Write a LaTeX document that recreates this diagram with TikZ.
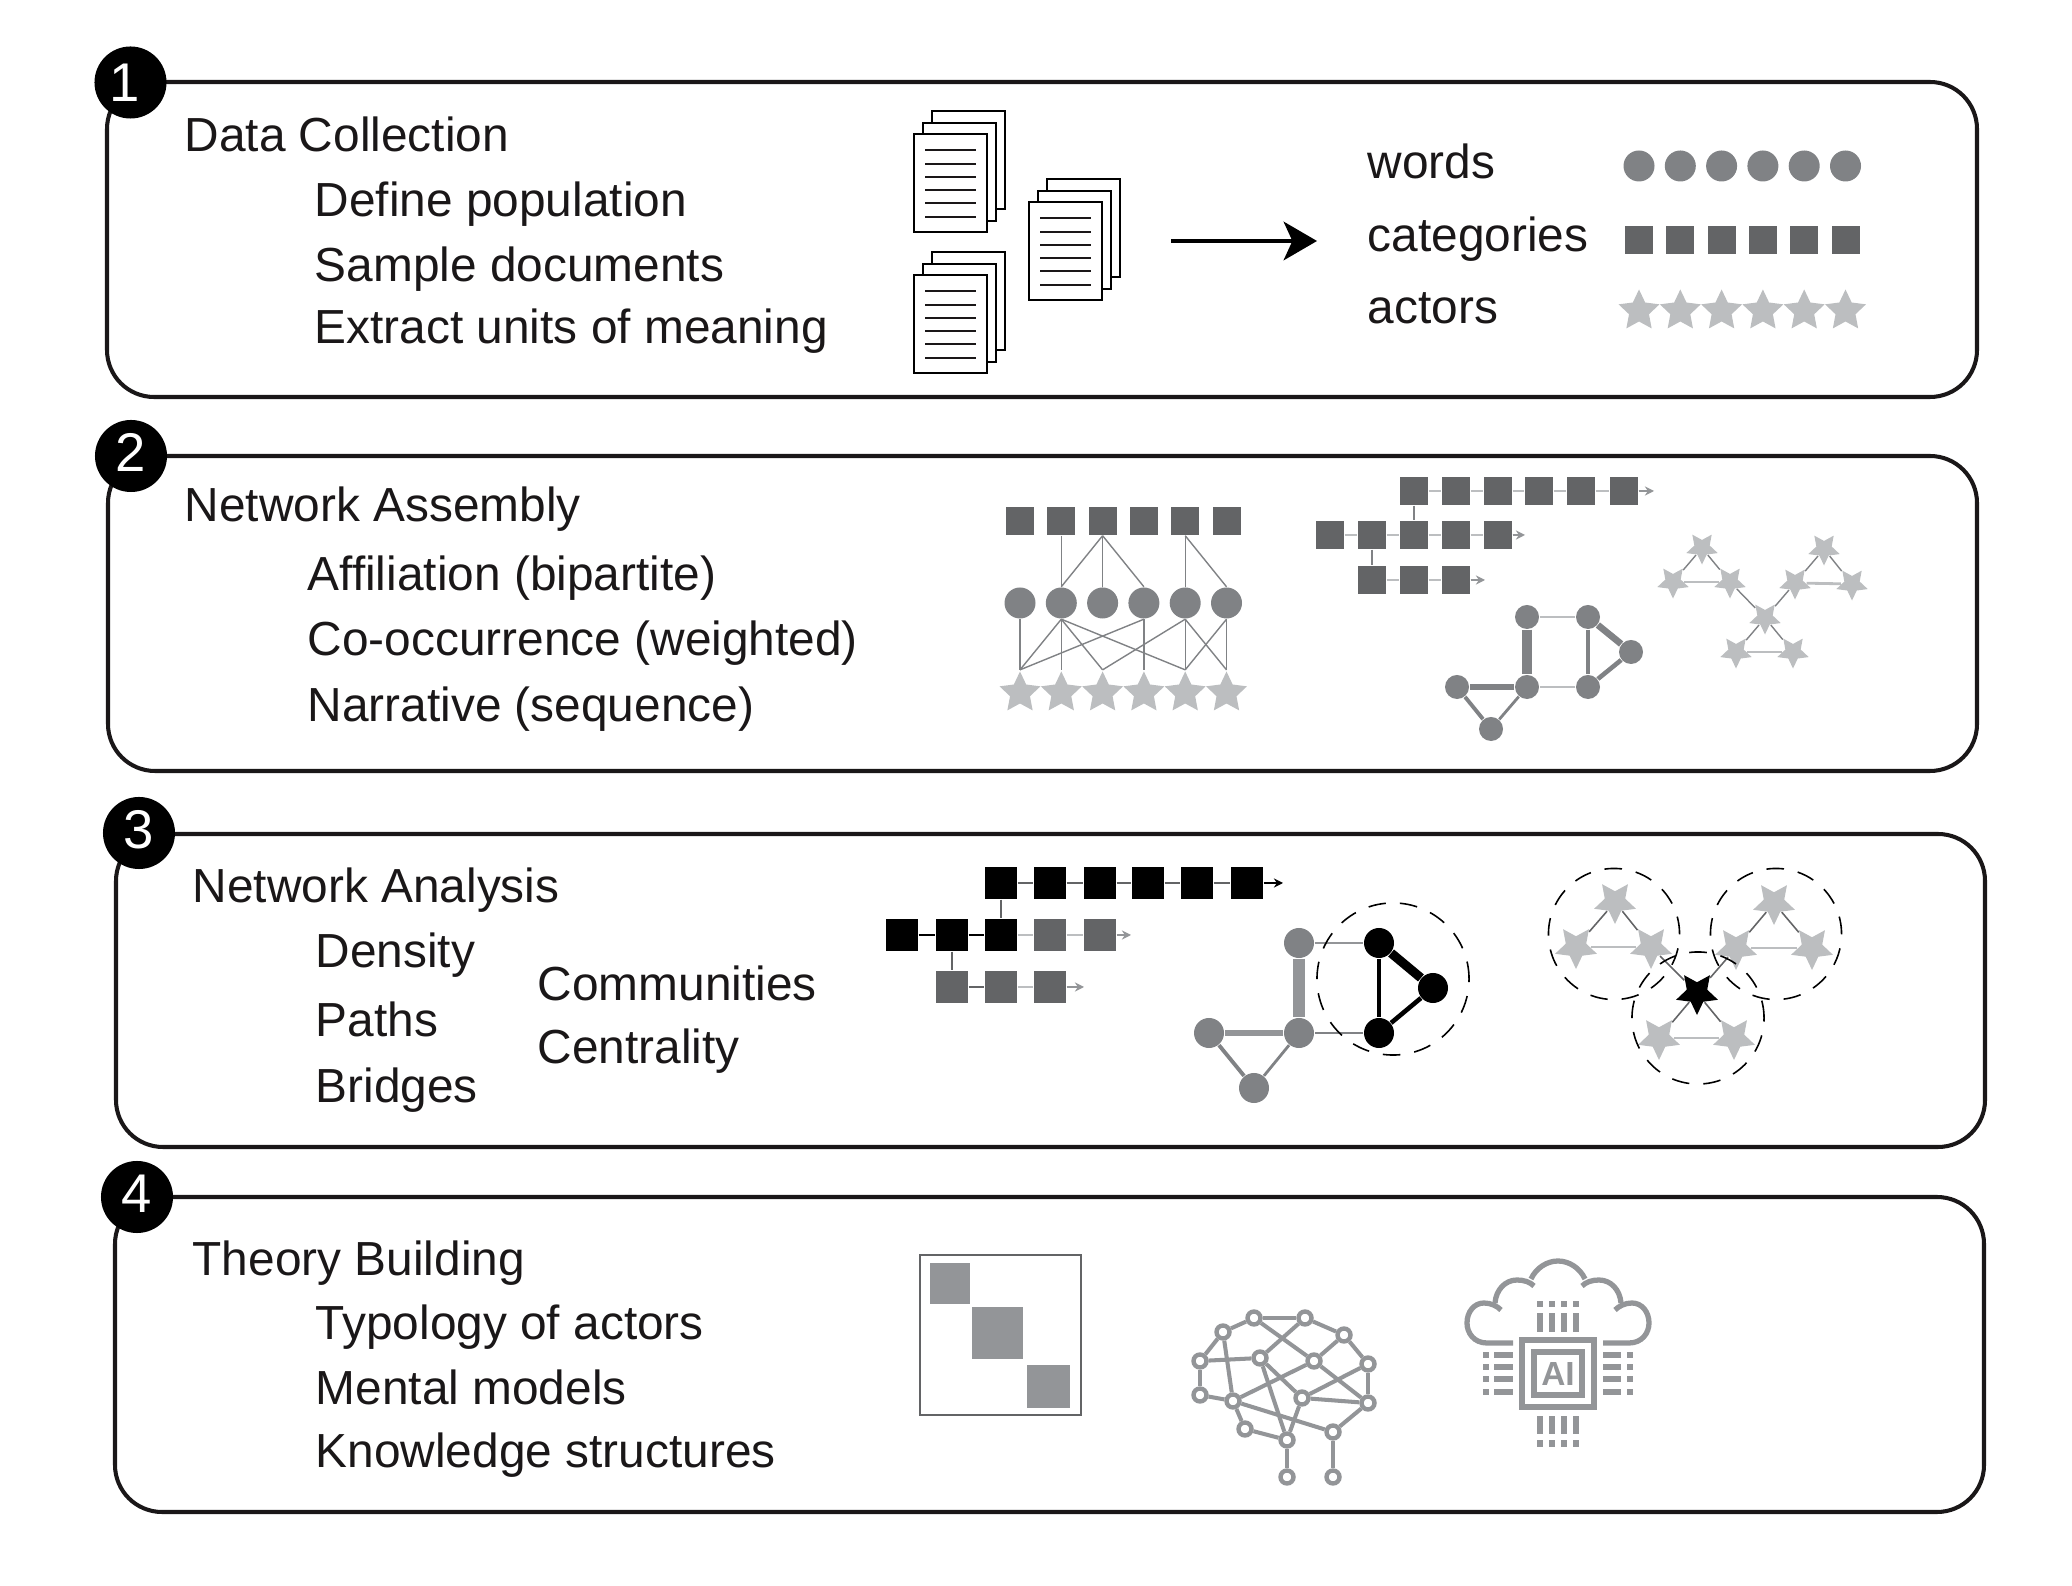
\documentclass[tikz,border=0pt]{standalone}
\usepackage{fontspec}
\setmainfont{Liberation Sans}
\usetikzlibrary{shapes.geometric,arrows.meta}

\definecolor{ink}{HTML}{1A1718}
\definecolor{greyA}{HTML}{636466}
\definecolor{greyB}{HTML}{808285}
\definecolor{greyC}{HTML}{939598}
\definecolor{greyD}{HTML}{BCBEC0}

\tikzset{
    panel/.style={draw=ink,line width=1.15pt,rounded corners=0.47cm},
    badge/.style={circle,fill=black,text=white,inner sep=0pt,minimum size=0.72cm,font=\fontsize{15.5pt}{18pt}\selectfont},
    txt/.style={anchor=base west,inner sep=0pt,text=ink,font=\fontsize{13.6pt}{15pt}\selectfont},
    dot/.style={circle,fill=greyB,inner sep=0pt,minimum size=0.31cm},
    sq/.style={rectangle,fill=greyA,inner sep=0pt,minimum size=0.28cm},
    sqk/.style={rectangle,fill=black,inner sep=0pt,minimum size=0.32cm},
    sqg/.style={rectangle,fill=greyA,inner sep=0pt,minimum size=0.32cm},
    actor/.style={star,star points=5,star point ratio=2.05,fill=greyD,inner sep=0pt,minimum size=0.43cm},
    actordown/.style={actor,shape border rotate=180,minimum size=#1},
    vtx/.style={circle,fill=greyB,inner sep=0pt,minimum size=#1},
    thinedge/.style={draw=greyB,line width=0.4pt},
    seqline/.style={draw=greyD,line width=0.7pt},
    seqtip/.style={-{Stealth[length=2.6pt,width=2.6pt]}},
    hull/.style={circle,draw=black,dashed,dash pattern=on 5pt off 4pt,line width=0.45pt,inner sep=0pt,minimum size=#1},
    synapse/.style={circle,draw=greyC,fill=white,line width=1.25pt,inner sep=0pt,minimum size=0.13cm},
    wire/.style={draw=greyC,line width=1.15pt},
    pin/.style={fill=greyC},
}

\newcommand{\docstack}[2]{
    \begin{scope}[shift={(#1,#2)}]
        \draw[black,fill=white,line width=0.75pt] (18,-23) rectangle (91,75);
        \draw[black,fill=white,line width=0.75pt] (9,-11) rectangle (82,87);
        \draw[black,fill=white,line width=0.75pt] (0,0) rectangle (73,98);
        \foreach \ly in {16,30,43,56,69,83}
            \draw[ink,line width=0.65pt] (11,\ly) -- (62,\ly);
    \end{scope}
}
\newcommand{\upnum}[1]{\raisebox{1.2pt}[11.1pt][0pt]{#1}}

\begin{document}
\begin{tikzpicture}[x=0.01cm,y=-0.01cm]
    \useasboundingbox (0,0) rectangle (2072,1586);

    \draw[panel] (107,82) rectangle (1977,397);
    \draw[panel] (108,456) rectangle (1977,771);
    \draw[panel] (116,834) rectangle (1985,1147);
    \draw[panel] (115,1197) rectangle (1984,1512);

    \node[badge] (b1) at (130.5,82.5) {\kern-3.4pt 1};
    \node[badge] (b2) at (131,456) {\upnum{2}};
    \node[badge] (b3) at (139,833) {\upnum{3}};
    \node[badge] (b4) at (137,1197) {\upnum{4}};

    %%%%%%%%%%%%%%%%%%%%%%%%%%%%%%%%%%%%
    % Panel 1
    %%%%%%%%%%%%%%%%%%%%%%%%%%%%%%%%%%%%
    \node[txt] (t11) at (184,152) {Data Collection};
    \node[txt] (t12) at (314,217) {Define population};
    \node[txt] (t13) at (314,282) {Sample documents};
    \node[txt] (t14) at (314,344) {Extract units of meaning};

    \docstack{914}{134}
    \docstack{1029}{202}
    \docstack{914}{275}

    \coordinate (ar1) at (1171,241);
    \coordinate (ar2) at (1317,241);
    \draw[-{Stealth[length=9.5pt,width=11pt,inset=2.5pt]},black,line width=0.9pt] (ar1) -- (ar2);

    \node[txt] (l1) at (1367,179) {words};
    \node[txt] (l2) at (1367,252) {categories};
    \node[txt] (l3) at (1367,324) {actors};

    \foreach \i in {1,...,6} {
        \node[dot] (w\i) at ({1639+41.3*(\i-1)},166) {};
        \node[sq] (c\i) at ({1639+41.3*(\i-1)},240) {};
        \node[actor] (a\i) at ({1639+41.3*(\i-1)},311) {};
    }

    %%%%%%%%%%%%%%%%%%%%%%%%%%%%%%%%%%%%
    % Panel 2
    %%%%%%%%%%%%%%%%%%%%%%%%%%%%%%%%%%%%
    \node[txt] (t21) at (184,522) {Network Assembly};
    \node[txt] (t22) at (307,591) {Affiliation (bipartite)};
    \node[txt] (t23) at (307,656) {Co-occurrence (weighted)};
    \node[txt] (t24) at (307,722) {Narrative (sequence)};

    \foreach \i in {1,...,6} {
        \node[sq] (s\i) at ({1020+41.3*(\i-1)},521) {};
        \node[dot] (o\i) at ({1020+41.3*(\i-1)},603) {};
        \node[actor] (p\i) at ({1020+41.3*(\i-1)},693) {};
    }
    \foreach \a/\b in {2/2,3/2,3/3,3/4,5/5,5/6}
        \draw[thinedge] (s\a.south) -- (o\b.north);
    \foreach \a/\b in {1/1,2/1,2/2,2/3,2/5,4/1,4/4,5/3,5/5,5/6,6/5,6/6}
        \draw[thinedge] (o\a.south) -- (p\b.north);

    % sequences
    \foreach \i/\x in {1/1414,2/1456,3/1498,4/1539,5/1581,6/1624}
        \node[sq] (qa\i) at (\x,491) {};
    \foreach \i/\x in {1/1330,2/1372,3/1414,4/1456,5/1498}
        \node[sq] (qb\i) at (\x,535) {};
    \foreach \i/\x in {1/1372,2/1414,3/1456}
        \node[sq] (qc\i) at (\x,580) {};
    \coordinate (qa7) at (1654,491);
    \coordinate (qb6) at (1525,535);
    \coordinate (qc4) at (1485,580);
    \foreach \a/\b in {qa1/qa2,qa2/qa3,qa3/qa4,qa4/qa5,qa5/qa6,qb1/qb2,qb2/qb3,qb3/qb4,qb4/qb5,qc1/qc2,qc2/qc3}
        \draw[seqline] (\a) -- (\b);
    \draw[seqline,draw=greyC,fill=greyB,seqtip] (qa6) -- (qa7);
    \draw[seqline,draw=greyC,fill=greyB,seqtip] (qb5) -- (qb6);
    \draw[seqline,draw=greyC,fill=greyB,seqtip] (qc3) -- (qc4);
    \draw[thinedge] (qa1) -- (qb3);
    \draw[thinedge] (qb2) -- (qc1);

    % weighted graph
    \foreach \n/\x/\y in {ga/1527/617,gb/1588/617,gc/1631/652,gd/1588/687,ge/1527/687,gf/1457/687,gg/1491/729}
        \node[vtx=0.24cm] (\n) at (\x,\y) {};
    \draw[greyB,line width=3.1pt] (ga) -- (ge);
    \draw[greyD,line width=0.8pt] (ga) -- (gb);
    \draw[greyB,line width=1.9pt] (gb) -- (gc);
    \draw[greyB,line width=0.9pt] (gb) -- (gd);
    \draw[greyB,line width=1.3pt] (gc) -- (gd);
    \draw[greyD,line width=0.8pt] (gd) -- (ge);
    \draw[greyB,line width=1.6pt] (ge) -- (gf);
    \draw[greyB,line width=1.1pt] (gf) -- (gg);
    \draw[greyB,line width=0.8pt] (ge) -- (gg);

    % star triads
    \foreach \n/\x/\y in {ta/1702/548,tb/1673/582,tc/1730/582,td/1824/549,te/1795/583,tf/1852/584,tg/1765/618,th/1736/652,ti/1793/652}
        \node[actordown=0.33cm] (\n) at (\x,\y) {};
    \foreach \a/\b in {ta/tb,ta/tc,td/te,td/tf,tc/tg,te/tg,tg/th,tg/ti}
        \draw[thinedge] (\a) -- (\b);
    \foreach \a/\b in {tb/tc,te/tf,th/ti}
        \draw[greyD,line width=0.8pt] (\a) -- (\b);

    %%%%%%%%%%%%%%%%%%%%%%%%%%%%%%%%%%%%
    % Panel 3
    %%%%%%%%%%%%%%%%%%%%%%%%%%%%%%%%%%%%
    \node[txt] (t31) at (192,903) {Network Analysis};
    \node[txt] (t32) at (315,968) {Density};
    \node[txt] (t33) at (315,1037) {Paths};
    \node[txt] (t34) at (315,1103) {Bridges};
    \node[txt] (t35) at (537,1001) {Communities};
    \node[txt] (t36) at (537,1064) {Centrality};

    \foreach \i/\x in {1/1001,2/1050,3/1100,4/1148,5/1197,6/1247}
        \node[sqk] (ka\i) at (\x,883) {};
    \foreach \i/\x/\st in {1/902/sqk,2/952/sqk,3/1001/sqk,4/1050/sqg,5/1100/sqg}
        \node[\st] (kb\i) at (\x,935) {};
    \foreach \i/\x in {1/952,2/1001,3/1050}
        \node[sqg] (kc\i) at (\x,987) {};
    \coordinate (ka7) at (1283,883);
    \coordinate (kb6) at (1131,935);
    \coordinate (kc4) at (1084,987);
    \foreach \a/\b in {ka1/ka2,ka2/ka3,ka3/ka4,ka4/ka5,ka5/ka6}
        \draw[greyA,line width=0.8pt] (\a) -- (\b);
    \draw[black,line width=0.7pt,seqtip] (ka6) -- (ka7);
    \draw[black,line width=0.7pt] (kb1) -- (kb2);
    \draw[black,line width=0.7pt] (kb2) -- (kb3);
    \draw[greyD,line width=0.8pt] (kb3) -- (kb4);
    \draw[greyD,line width=0.8pt] (kb4) -- (kb5);
    \draw[greyC,line width=0.8pt,seqtip] (kb5) -- (kb6);
    \draw[greyA,line width=0.5pt] (kc1) -- (kc2);
    \draw[greyD,line width=0.8pt] (kc2) -- (kc3);
    \draw[greyC,line width=0.8pt,seqtip] (kc3) -- (kc4);
    \draw[greyA,line width=0.45pt] (ka1) -- (kb3);
    \draw[greyA,line width=0.45pt] (kb2) -- (kc1);

    \foreach \n/\x/\y in {ha/1299/943,he/1299/1033,hf/1209/1033,hg/1254/1088}
        \node[vtx=0.30cm] (\n) at (\x,\y) {};
    \foreach \n/\x/\y in {hb/1379/943,hc/1433/988,hd/1379/1033}
        \node[vtx=0.30cm,fill=black] (\n) at (\x,\y) {};
    \draw[greyC,line width=3.4pt] (ha) -- (he);
    \draw[greyC,line width=0.7pt] (ha) -- (hb);
    \draw[black,line width=2.6pt] (hb) -- (hc);
    \draw[black,line width=1pt] (hb) -- (hd);
    \draw[black,line width=1.3pt] (hc) -- (hd);
    \draw[greyB,line width=0.6pt] (hd) -- (he);
    \draw[greyC,line width=1.7pt] (he) -- (hf);
    \draw[greyB,line width=1.1pt] (hf) -- (hg);
    \draw[greyB,line width=0.8pt] (he) -- (hg);
    \node[hull=1.52cm] (cm) at (1393,979) {};

    \foreach \n/\x/\y in {ua/1615/902,ub/1576/947,uc/1651/947,ud/1774/903,ue/1736/948,uf/1812/948,uh/1659/1038,ui/1734/1038}
        \node[actordown=0.44cm] (\n) at (\x,\y) {};
    \node[actordown=0.44cm,fill=black] (ug) at (1697,993) {};
    \foreach \a/\b in {ua/ub,ua/uc,ud/ue,ud/uf,uc/ug,ue/ug,ug/uh,ug/ui}
        \draw[greyA,line width=0.45pt] (\a) -- (\b);
    \foreach \a/\b in {ub/uc,ue/uf,uh/ui}
        \draw[greyD,line width=0.8pt] (\a) -- (\b);
    \node[hull=1.31cm] (ca) at (1614,934) {};
    \node[hull=1.31cm] (cb) at (1776,934) {};
    \node[hull=1.32cm] (cc) at (1698,1018) {};

    %%%%%%%%%%%%%%%%%%%%%%%%%%%%%%%%%%%%
    % Panel 4
    %%%%%%%%%%%%%%%%%%%%%%%%%%%%%%%%%%%%
    \node[txt] (t41) at (192,1275) {Theory Building};
    \node[txt] (t42) at (315,1340) {Typology of actors};
    \node[txt] (t43) at (315,1404) {Mental models};
    \node[txt] (t44) at (315,1467) {Knowledge structures};

    \draw[greyA,line width=0.4pt] (920,1255) rectangle (1081,1415);
    \fill[greyC] (930,1263) rectangle (970,1304);
    \fill[greyC] (972,1307) rectangle (1023,1359);
    \fill[greyC] (1027,1365) rectangle (1070,1408);

    % brain
    \foreach \n/\x/\y in {n1/1254/1318,n2/1305/1318,n3/1344/1335,n4/1368/1364,n5/1368/1403,n6/1333/1432,n7/1287/1440,n8/1245/1429,n9/1233/1401,n10/1200/1395,n11/1200/1361,n12/1223/1332,n13/1260/1358,n14/1314/1361,n15/1302/1398,n16/1287/1477,n17/1333/1477}
        \node[synapse] (\n) at (\x,\y) {};
    \foreach \a/\b in {n1/n2,n2/n3,n3/n4,n4/n5,n5/n6,n6/n17,n7/n16,n7/n8,n8/n9,n9/n10,n10/n11,n11/n12,n12/n1,n1/n14,n2/n13,n3/n14,n11/n13,n12/n9,n13/n15,n13/n7,n14/n9,n14/n5,n4/n15,n15/n5,n15/n7,n9/n6}
        \draw[wire] (\a) -- (\b);

    % cloud and chip
    \foreach \sx in {1,-1} {
        \begin{scope}[shift={(1558,0)},xscale=\sx]
            \draw[greyC,line width=1.5pt]
                (-45,1343) -- (-71,1343) .. controls (-84,1343) and (-91,1333) .. (-91,1323)
                .. controls (-91,1312) and (-84,1303) .. (-74,1303) .. controls (-67,1303) and (-61,1306) .. (-57,1310);
            \draw[greyC,line width=1.5pt]
                (-63,1303) .. controls (-62,1290) and (-53,1280) .. (-41,1280) .. controls (-34,1280) and (-28,1282) .. (-24,1286);
            \draw[greyC,line width=1.5pt]
                (-27,1279) .. controls (-22,1268) and (-11,1261) .. (0,1261);
        \end{scope}
    }
    \draw[greyC,line width=1.5pt] (1522,1340) rectangle (1594,1407);
    \draw[greyC,line width=1.7pt] (1534,1352) rectangle (1582,1395);
    \node[inner sep=0pt,text=greyC,font=\bfseries\fontsize{9.5pt}{10pt}\selectfont] (ai) at (1558,1374) {AI};
    \foreach \px in {1540,1552,1564,1576} {
        \fill[pin] ({\px-3},1313) rectangle ({\px+3},1332);
        \fill[pin] ({\px-3},1301) rectangle ({\px+3},1307);
        \fill[pin] ({\px-3},1416) rectangle ({\px+3},1434);
        \fill[pin] ({\px-3},1440) rectangle ({\px+3},1447);
    }
    \foreach \py in {1355,1367,1379,1392} {
        \fill[pin] (1494,{\py-3}) rectangle (1513,{\py+3});
        \fill[pin] (1483,{\py-3}) rectangle (1489,{\py+3});
        \fill[pin] (1603,{\py-3}) rectangle (1621,{\py+3});
        \fill[pin] (1627,{\py-3}) rectangle (1633,{\py+3});
    }
\end{tikzpicture}
\end{document}
